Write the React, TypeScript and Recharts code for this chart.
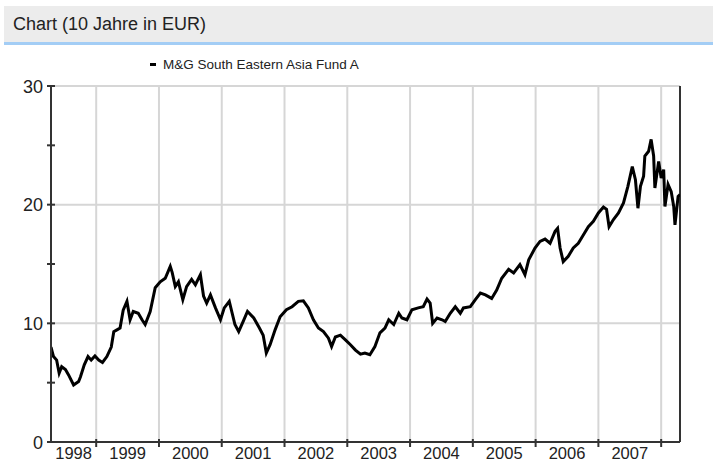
import React from "react";
import { LineChart, Line, XAxis, YAxis, ReferenceLine } from "recharts";

// time in fractional years
const times = [
  1998.28, 1998.32, 1998.37, 1998.41, 1998.45, 1998.51, 1998.56, 1998.64, 1998.72, 1998.75,
  1998.81, 1998.87, 1998.92, 1998.98, 1999.04, 1999.1, 1999.17, 1999.24, 1999.28, 1999.33,
  1999.38, 1999.43, 1999.49, 1999.54, 1999.59, 1999.67, 1999.73, 1999.78, 1999.86, 1999.94,
  2000.02, 2000.1, 2000.18, 2000.21, 2000.26, 2000.31, 2000.38, 2000.44, 2000.52, 2000.58,
  2000.66, 2000.71, 2000.76, 2000.82, 2000.9, 2000.98, 2001.04, 2001.12, 2001.21, 2001.27,
  2001.34, 2001.41, 2001.51, 2001.6, 2001.66, 2001.71, 2001.77, 2001.85, 2001.93, 2002.03,
  2002.12, 2002.22, 2002.3, 2002.38, 2002.46, 2002.54, 2002.62, 2002.7, 2002.75, 2002.81,
  2002.89, 2002.97, 2003.05, 2003.13, 2003.21, 2003.28, 2003.36, 2003.44, 2003.52, 2003.6,
  2003.66, 2003.74, 2003.82, 2003.87, 2003.95, 2004.03, 2004.13, 2004.21, 2004.27, 2004.32,
  2004.36, 2004.43, 2004.51, 2004.56, 2004.64, 2004.72, 2004.8, 2004.85, 2004.96, 2005.04,
  2005.12, 2005.2, 2005.3, 2005.38, 2005.46, 2005.57, 2005.65, 2005.75, 2005.83, 2005.89,
  2005.99, 2006.07, 2006.15, 2006.23, 2006.31, 2006.35, 2006.39, 2006.44, 2006.52, 2006.6,
  2006.68, 2006.76, 2006.84, 2006.92, 2007.0, 2007.08, 2007.13, 2007.17, 2007.24, 2007.32,
  2007.4, 2007.47, 2007.54, 2007.59, 2007.63, 2007.67, 2007.72, 2007.74, 2007.8, 2007.84,
  2007.88, 2007.9, 2007.96, 2008.0, 2008.04, 2008.06, 2008.11, 2008.16, 2008.2, 2008.22,
  2008.27, 2008.3,
];

const prices = [
  8.0, 7.2, 6.9, 5.8, 6.35, 6.1, 5.65, 4.8, 5.1, 5.5,
  6.5, 7.2, 6.9, 7.25, 6.9, 6.7, 7.2, 8.0, 9.3, 9.45,
  9.6, 11.1, 11.85, 10.3, 11.0, 10.85, 10.3, 9.9, 11.0, 13.0,
  13.5, 13.8, 14.8, 14.3, 13.1, 13.5, 12.0, 13.1, 13.7, 13.25,
  14.1, 12.3, 11.7, 12.4, 11.3, 10.3, 11.3, 11.85, 9.9, 9.3,
  10.15, 11.0, 10.45, 9.6, 9.0, 7.5, 8.2, 9.45, 10.55, 11.15,
  11.4, 11.85, 11.9, 11.3, 10.3, 9.6, 9.3, 8.75, 8.05, 8.85,
  9.0, 8.6, 8.2, 7.75, 7.4, 7.5, 7.35, 8.05, 9.2, 9.6,
  10.3, 9.9, 10.85, 10.45, 10.3, 11.15, 11.3, 11.4, 12.05, 11.7,
  10.0, 10.45, 10.3, 10.15, 10.85, 11.4, 10.85, 11.3, 11.4, 12.0,
  12.55, 12.4, 12.1, 12.8, 13.8, 14.55, 14.25, 14.95, 14.1, 15.35,
  16.35, 16.9, 17.1, 16.75, 17.75, 18.0, 16.35, 15.2, 15.65, 16.35,
  16.75, 17.45, 18.15, 18.6, 19.3, 19.8, 19.6, 18.15, 18.75, 19.3,
  20.15, 21.55, 23.2, 22.1, 19.7, 21.55, 22.4, 24.1, 24.5, 25.5,
  24.1, 21.4, 23.65, 22.25, 22.95, 19.85, 21.7, 21.1, 19.85, 18.3,
  20.7, 20.85,
];

const yTicks = [0, 5, 10, 15, 20, 25, 30];
const yGrid = [10, 20, 30];
const yearBoundaries = [1999, 2000, 2001, 2002, 2003, 2004, 2005, 2006, 2007, 2008];
const yearLabels = ["1998", "1999", "2000", "2001", "2002", "2003", "2004", "2005", "2006", "2007"];

const seriesName = "M&G South Eastern Asia Fund A";
const title = "Chart (10 Jahre in EUR)";

const FONT = "Arial, 'Liberation Sans', sans-serif";
const START = times[0];
const END = times[times.length - 1];

const data = times.map((t, i) => ({ t, v: prices[i] }));

// label sits in the middle of the visible part of each year
const labelTicks = yearLabels.map((y) => {
  const yr = Number(y);
  const a = Math.max(START, yr);
  const b = Math.min(END, yr + 1);
  return (a + b) / 2;
});
const xTicks = [...labelTicks, ...yearBoundaries].sort((a, b) => a - b);

function YTick(props: any) {
  const { x, y, payload } = props;
  const v = payload.value;
  return (
    <g>
      <line x1={x - 4} x2={x + 4} y1={y} y2={y} stroke="#333" strokeWidth={2} />
      {v % 10 === 0 && (
        <text x={x - 8} y={y + 6.5} textAnchor="end" fontSize={18} fontFamily={FONT} fill="#222">
          {v}
        </text>
      )}
    </g>
  );
}

function XTick(props: any) {
  const { x, y, payload } = props;
  const v = payload.value;
  if (Number.isInteger(v)) {
    return <line x1={x} x2={x} y1={y - 3} y2={y + 5} stroke="#333" strokeWidth={2} />;
  }
  return (
    <text x={x} y={y + 16.5} textAnchor="middle" fontSize={16.5} fontFamily={FONT} fill="#222">
      {String(Math.floor(v))}
    </text>
  );
}

export default function App() {
  return (
    <div
      style={{
        position: "absolute",
        left: 0,
        top: 0,
        width: 713,
        height: 462,
        background: "#fff",
        fontFamily: FONT,
        overflow: "hidden",
      }}
    >
      <div
        style={{
          position: "absolute",
          left: 4,
          top: 6,
          width: 709,
          height: 36,
          background: "#ececec",
          borderBottom: "3px solid #a3cdf5",
        }}
      >
        <div style={{ position: "absolute", left: 9, top: 8, fontSize: 18, color: "#222", whiteSpace: "nowrap" }}>
          {title}
        </div>
      </div>
      <div
        style={{
          position: "absolute",
          left: 150,
          top: 57,
          fontSize: 13.5,
          color: "#222",
          whiteSpace: "nowrap",
          display: "flex",
          alignItems: "center",
        }}
      >
        <span style={{ display: "inline-block", width: 6, height: 3, background: "#000", marginRight: 7 }} />
        {seriesName}
      </div>
      <div style={{ position: "absolute", left: 0, top: 0 }}>
        <LineChart width={713} height={462} data={data} margin={{ top: 86, right: 33, left: 0, bottom: 0 }}>
          <XAxis
            dataKey="t"
            type="number"
            domain={[START, END]}
            allowDataOverflow
            ticks={xTicks}
            interval={0}
            height={20}
            tickSize={0}
            tickMargin={0}
            tick={<XTick />}
            axisLine={{ stroke: "#333", strokeWidth: 2 }}
            tickLine={false}
          />
          <YAxis
            type="number"
            domain={[0, 30]}
            ticks={yTicks}
            interval={0}
            width={51}
            tickSize={0}
            tickMargin={0}
            tick={<YTick />}
            axisLine={{ stroke: "#333", strokeWidth: 2 }}
            tickLine={false}
          />
          {yearBoundaries.map((b) => (
            <ReferenceLine key={`vx${b}`} x={b} stroke="#d6d6d6" strokeWidth={2} />
          ))}
          {yGrid.map((g) => (
            <ReferenceLine key={`hy${g}`} y={g} stroke="#d6d6d6" strokeWidth={2} />
          ))}
          <ReferenceLine x={END} stroke="#333" strokeWidth={2} />
          <Line
            type="linear"
            dataKey="v"
            stroke="#000"
            strokeWidth={3}
            dot={false}
            isAnimationActive={false}
          />
        </LineChart>
      </div>
    </div>
  );
}
